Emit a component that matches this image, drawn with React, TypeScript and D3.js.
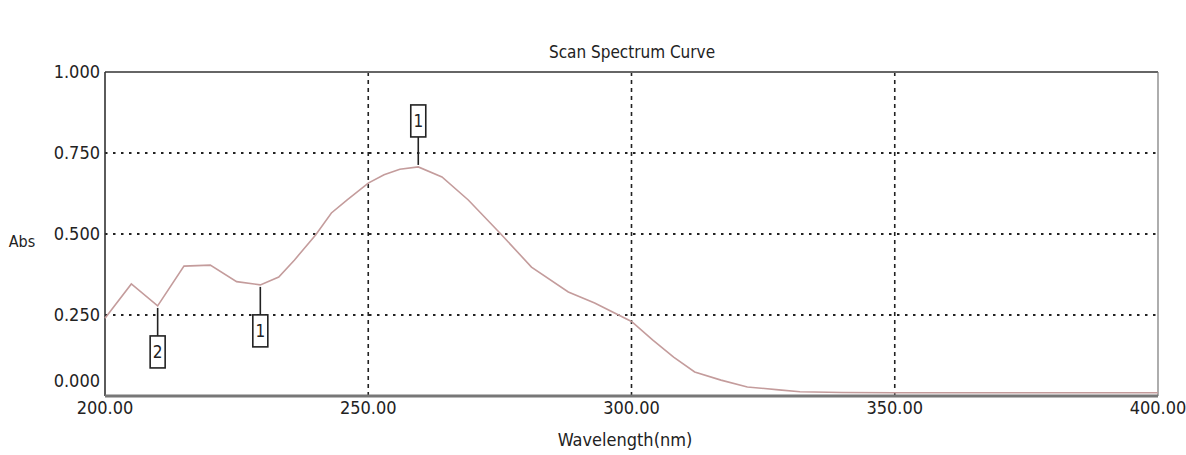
import React, { useEffect, useRef } from 'react';
import * as d3 from 'd3';

// spectrum readings (wavelength nm -> absorbance)
const wavelengths = [200, 205, 210, 215, 220, 225, 229.5, 233, 236, 240, 243, 246, 250, 253, 256, 259.5, 264, 269, 275, 281, 288, 293, 300, 304, 308, 312, 317, 322, 328, 332, 340, 350, 375, 400];
const absorbance = [0.24, 0.346, 0.278, 0.401, 0.404, 0.353, 0.343, 0.367, 0.42, 0.497, 0.565, 0.605, 0.657, 0.683, 0.7, 0.707, 0.676, 0.605, 0.503, 0.398, 0.321, 0.287, 0.23, 0.173, 0.12, 0.074, 0.049, 0.028, 0.019, 0.013, 0.011, 0.01, 0.01, 0.01];

// peak / valley markers
const markerWl = [210, 229.5, 259.5];
const markerLabel = ['2', '1', '1'];
const markerSide = ['below', 'below', 'above'];

const xTicks = [200, 250, 300, 350, 400];
const yTicks = [0, 0.25, 0.5, 0.75, 1];

const FONT = '"DejaVu Sans", "Liberation Sans", sans-serif';

const App = () => {
    const svgRef = useRef<SVGSVGElement>(null);

    useEffect(() => {
        const svg = d3.select(svgRef.current);
        svg.selectAll('*').remove();

        const left = 105, right = 1158, top = 72, bottom = 396;
        const x = d3.scaleLinear().domain([200, 400]).range([left, right]);
        const y = d3.scaleLinear().domain([0, 1]).range([bottom, top]);
        const data = wavelengths.map((w, i) => ({ w, a: absorbance[i] }));

        svg.append('rect').attr('width', 1186).attr('height', 455).attr('fill', '#fff');

        const txt = (sel: any, size: number) => sel
            .attr('font-family', FONT)
            .attr('font-stretch', 'condensed')
            .attr('font-size', size)
            .attr('fill', '#222');

        // title
        txt(svg.append('text'), 17)
            .attr('x', 632).attr('y', 58)
            .attr('text-anchor', 'middle')
            .text('Scan Spectrum Curve');

        // grid
        svg.append('g').selectAll('line')
            .data(yTicks.filter(t => t > 0 && t < 1))
            .enter().append('line')
            .attr('x1', left).attr('x2', right)
            .attr('y1', d => y(d)).attr('y2', d => y(d))
            .attr('stroke', '#222').attr('stroke-width', 2.2)
            .attr('stroke-dasharray', '2.5,5.5');

        svg.append('g').selectAll('line')
            .data(xTicks.filter(t => t > 200 && t < 400))
            .enter().append('line')
            .attr('x1', d => x(d)).attr('x2', d => x(d))
            .attr('y1', top).attr('y2', bottom)
            .attr('stroke', '#222').attr('stroke-width', 1.6)
            .attr('stroke-dasharray', '4,4');

        // frame
        svg.append('line').attr('x1', left).attr('x2', right).attr('y1', top).attr('y2', top)
            .attr('stroke', '#666').attr('stroke-width', 2);
        svg.append('line').attr('x1', right).attr('x2', right).attr('y1', top).attr('y2', bottom)
            .attr('stroke', '#777').attr('stroke-width', 1.2);
        svg.append('line').attr('x1', left).attr('x2', left).attr('y1', top).attr('y2', bottom)
            .attr('stroke', '#333').attr('stroke-width', 1.6);
        svg.append('line').attr('x1', left).attr('x2', right).attr('y1', bottom).attr('y2', bottom)
            .attr('stroke', '#777').attr('stroke-width', 3);

        // y labels
        txt(svg.append('g').selectAll('text')
            .data(yTicks)
            .enter().append('text'), 18)
            .attr('x', left - 5)
            .attr('y', d => y(d) + (d === 0 ? -15 : 0))
            .attr('dy', '0.35em')
            .attr('text-anchor', 'end')
            .text(d => d.toFixed(3));

        // x labels
        txt(svg.append('g').selectAll('text')
            .data(xTicks)
            .enter().append('text'), 18)
            .attr('x', d => x(d))
            .attr('y', bottom + 12)
            .attr('dy', '0.35em')
            .attr('text-anchor', 'middle')
            .text(d => d.toFixed(2));

        txt(svg.append('text'), 18)
            .attr('x', 625).attr('y', 446)
            .attr('text-anchor', 'middle')
            .text('Wavelength(nm)');

        txt(svg.append('text'), 16)
            .attr('x', 22).attr('y', 241)
            .attr('dy', '0.35em')
            .attr('text-anchor', 'middle')
            .text('Abs');

        // curve
        const line = d3.line<{ w: number; a: number }>()
            .x(d => x(d.w))
            .y(d => y(d.a));

        svg.append('path')
            .datum(data)
            .attr('d', line)
            .attr('fill', 'none')
            .attr('stroke', '#c49c9c')
            .attr('stroke-width', 1.6);

        // markers
        const absAt = d3.scaleLinear().domain(wavelengths).range(absorbance);
        markerWl.forEach((w, i) => {
            const px = x(w);
            const py = y(absAt(w));
            const up = markerSide[i] === 'above';
            const lead = 30;
            const boxH = 32, boxW = 15;
            const edge = up ? py - lead : py + lead;
            const g = svg.append('g');
            g.append('line')
                .attr('x1', px).attr('x2', px)
                .attr('y1', py + (up ? -2 : 2)).attr('y2', edge)
                .attr('stroke', '#222').attr('stroke-width', 1.6);
            const by = up ? edge - boxH : edge;
            g.append('rect')
                .attr('x', px - boxW / 2).attr('y', by)
                .attr('width', boxW).attr('height', boxH)
                .attr('fill', '#fff').attr('stroke', '#222').attr('stroke-width', 1.6);
            txt(g.append('text'), 17)
                .attr('x', px).attr('y', by + boxH / 2)
                .attr('dy', '0.35em')
                .attr('text-anchor', 'middle')
                .text(markerLabel[i]);
        });
    }, []);

    return (
        <svg
            ref={svgRef}
            width={1186}
            height={455}
            style={{ position: 'absolute', left: 0, top: 0 }}
        />
    );
};

export default App;
